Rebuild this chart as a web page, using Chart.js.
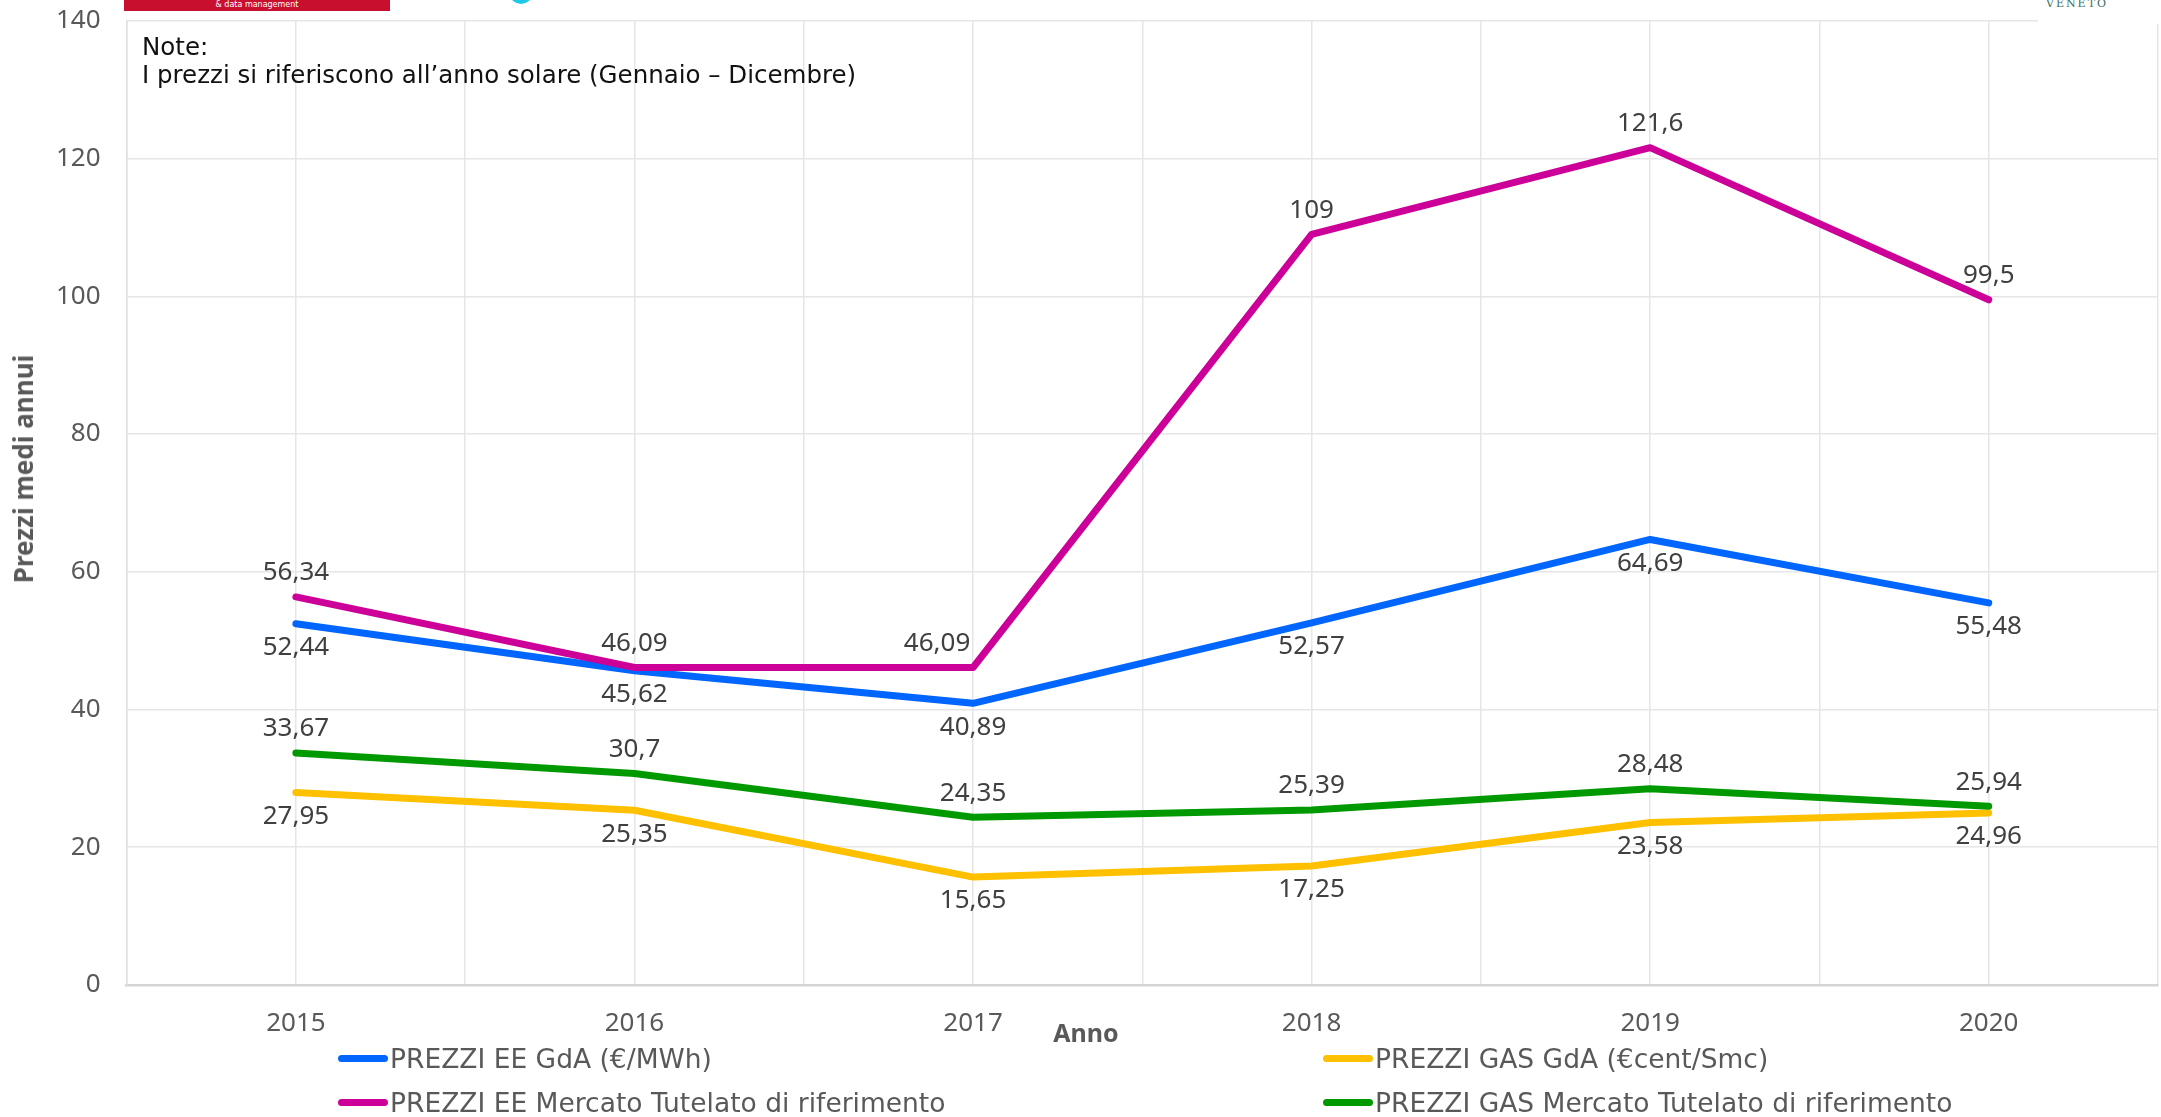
<!DOCTYPE html>
<html lang="it">
<head>
<meta charset="UTF-8" />
<title>Prezzi medi annui</title>
<script src="https://cdn.jsdelivr.net/npm/chart.js"></script>
<style>
  html, body { margin: 0; padding: 0; background: #fff; }
  body { width: 2161px; height: 1117px; position: relative; overflow: hidden; font-family: "DejaVu Sans", sans-serif; }
  #chart { position: absolute; left: 0; top: 0; }
  .logo-red { position: absolute; left: 124px; top: 0; width: 266px; height: 11px; background: #c8102e; color: #fff; font-size: 8px; line-height: 9px; text-align: center; }
  .logo-dot { position: absolute; left: 510px; top: -16px; width: 22px; height: 20px; border-radius: 50%; background: #1ec8e8; }
  .logo-right { position: absolute; left: 2038px; top: 0; width: 123px; height: 24px; background: #fff; }
  .logo-right span { position: absolute; left: 8px; top: -3px; font-family: "DejaVu Serif", serif; font-size: 11px; color: #3a6e66; letter-spacing: 2px; }
  .note { position: absolute; left: 142px; top: 33px; font-size: 24.5px; line-height: 28px; color: #111; }
  .axis-title { position: absolute; font-family: "Noto Sans", Lato, sans-serif; font-weight: bold; font-size: 25px; color: #595959; white-space: nowrap; }
  .x-title { left: 1086px; top: 1032px; transform: translate(-50%, -50%); }
  .y-title { left: 23px; top: 469px; font-size: 26px; transform: translate(-50%, -50%) rotate(-90deg); }
  .legend { position: absolute; left: 338px; top: 1036px; display: grid; grid-template-columns: 985px 800px; grid-auto-rows: 44px; }
  .legend div { display: flex; align-items: center; font-size: 26.5px; color: #595959; white-space: nowrap; }
  .legend i { display: inline-block; width: 50px; height: 7px; border-radius: 4px; margin-right: 2px; }
</style>
</head>
<body>
  <canvas id="chart" width="2161" height="1117"></canvas>
  <div class="logo-red">&amp; data management</div>
  <div class="logo-dot"></div>
  <div class="logo-right"><span>VENETO</span></div>
  <div class="note">Note:<br>I prezzi si riferiscono all’anno solare (Gennaio – Dicembre)</div>
  <div class="axis-title x-title">Anno</div>
  <div class="axis-title y-title">Prezzi medi annui</div>
  <div class="legend" id="legend"></div>

  <script>
    const years = [2015, 2016, 2017, 2018, 2019, 2020];
    const eeGdA = [52.44, 45.62, 40.89, 52.57, 64.69, 55.48];
    const gasGdA = [27.95, 25.35, 15.65, 17.25, 23.58, 24.96];
    const eeTutelato = [56.34, 46.09, 46.09, 109, 121.6, 99.5];
    const gasTutelato = [33.67, 30.7, 24.35, 25.39, 28.48, 25.94];
    const yTicks = [0, 20, 40, 60, 80, 100, 120, 140];

    const toPoints = vals => years.map((yr, i) => ({ x: yr, y: vals[i] }));
    const fmt = v => String(v).replace('.', ',');

    const FONT = '"Noto Sans", Lato, sans-serif';
    Chart.defaults.font.family = FONT;

    // etichette dei valori sopra/sotto i punti
    const valueLabels = {
      id: 'valueLabels',
      afterDatasetsDraw(chart, args, opts) {
        const ctx = chart.ctx;
        ctx.save();
        ctx.font = '26px ' + FONT;
        ctx.fillStyle = '#404040';
        ctx.textAlign = 'center';
        ctx.textBaseline = 'middle';
        chart.data.datasets.forEach((ds, i) => {
          const meta = chart.getDatasetMeta(i);
          const dir = ds.labelSide === 'above' ? -1 : 1;
          meta.data.forEach((pt, j) => {
            let dx = 0;
            opts.shifts.forEach(s => { if (s.dataset === i && s.index === j) dx = s.dx; });
            ctx.fillText(fmt(ds.data[j].y), pt.x + dx, pt.y + dir * opts.offset);
          });
        });
        ctx.restore();
      }
    };

    const datasets = [
      { label: 'PREZZI EE GdA (€/MWh)', data: toPoints(eeGdA), borderColor: '#0066ff', labelSide: 'below', order: 1 },
      { label: 'PREZZI GAS GdA (€cent/Smc)', data: toPoints(gasGdA), borderColor: '#ffc000', labelSide: 'below', order: 3 },
      { label: 'PREZZI EE Mercato Tutelato di riferimento', data: toPoints(eeTutelato), borderColor: '#cc0099', labelSide: 'above', order: 0 },
      { label: 'PREZZI GAS Mercato Tutelato di riferimento', data: toPoints(gasTutelato), borderColor: '#009900', labelSide: 'above', order: 2 }
    ];
    datasets.forEach(d => {
      d.borderWidth = 7;
      d.pointRadius = 0;
      d.fill = false;
      d.tension = 0;
      d.borderCapStyle = 'round';
      d.borderJoinStyle = 'round';
    });

    const chart = new Chart(document.getElementById('chart'), {
      type: 'line',
      data: { datasets: datasets },
      options: {
        responsive: false,
        animation: false,
        layout: { padding: { left: 52, right: 0, top: 21, bottom: 75 } },
        plugins: {
          legend: { display: false },
          tooltip: { enabled: false },
          valueLabels: { offset: 24, shifts: [{ dataset: 2, index: 2, dx: -36 }] }
        },
        scales: {
          x: {
            type: 'linear',
            min: 2014.5,
            max: 2020.5,
            grid: { color: '#e6e6e6', lineWidth: 1.5, drawTicks: true, tickLength: 20, tickColor: 'rgba(0,0,0,0)' },
            border: { color: '#d4d4d4', width: 2.5 },
            ticks: {
              stepSize: 0.5,
              autoSkip: false,
              maxRotation: 0,
              padding: 3,
              color: '#595959',
              font: { size: 26 },
              callback: v => Number.isInteger(v) ? String(v) : ''
            }
          },
          y: {
            min: 0,
            max: 140,
            afterBuildTicks: axis => { axis.ticks = yTicks.map(v => ({ value: v })); },
            grid: { color: '#e6e6e6', lineWidth: 1.5, drawTicks: true, tickLength: 22, tickColor: 'rgba(0,0,0,0)' },
            border: { color: '#e0e0e0', width: 1.5 },
            ticks: { padding: 4, color: '#595959', font: { size: 26 } }
          }
        }
      },
      plugins: [valueLabels]
    });

    // legenda a griglia 2x2
    const legend = document.getElementById('legend');
    chart.data.datasets.forEach(ds => {
      const item = document.createElement('div');
      item.innerHTML = `<i style="background:${ds.borderColor}"></i>${ds.label}`;
      legend.appendChild(item);
    });
  </script>
</body>
</html>
